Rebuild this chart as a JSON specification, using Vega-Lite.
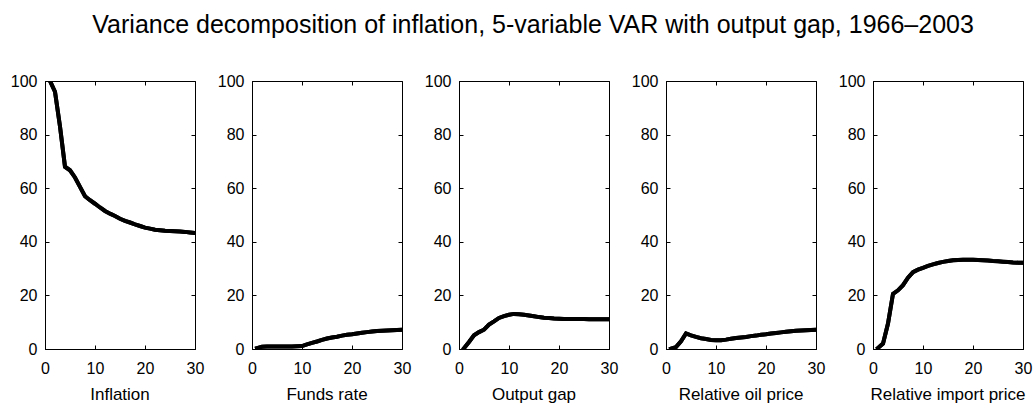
{
  "$schema": "https://vega.github.io/schema/vega-lite/v6.json",
  "padding": {"left": 9, "top": 12, "right": 2, "bottom": 0},
  "background": "white",
  "title": {"text": "Variance decomposition of inflation, 5-variable VAR with output gap, 1966–2003", "font": "Liberation Sans", "fontSize": 25, "fontWeight": "normal", "color": "black", "anchor": "middle", "offset": 35, "dx": 12},
  "config": {
    "view": {"stroke": "black", "strokeWidth": 1},
    "axis": {"labelFont": "Liberation Sans", "labelFontSize": 16, "labelColor": "black", "domainColor": "black", "tickColor": "black", "grid": false, "tickSize": -4, "labelPadding": 12, "labelFlush": false}
  },
  "data": {"values": [
    {"shock":"Inflation","h":1,"v":100},{"shock":"Inflation","h":2,"v":96},{"shock":"Inflation","h":3,"v":83},{"shock":"Inflation","h":4,"v":68},{"shock":"Inflation","h":5,"v":66.7},{"shock":"Inflation","h":6,"v":64},{"shock":"Inflation","h":7,"v":60.5},{"shock":"Inflation","h":8,"v":57},{"shock":"Inflation","h":9,"v":55.5},{"shock":"Inflation","h":10,"v":54.2},{"shock":"Inflation","h":11,"v":52.8},{"shock":"Inflation","h":12,"v":51.5},{"shock":"Inflation","h":13,"v":50.5},{"shock":"Inflation","h":14,"v":49.6},{"shock":"Inflation","h":15,"v":48.6},{"shock":"Inflation","h":16,"v":47.8},{"shock":"Inflation","h":17,"v":47.2},{"shock":"Inflation","h":18,"v":46.5},{"shock":"Inflation","h":19,"v":45.9},{"shock":"Inflation","h":20,"v":45.3},{"shock":"Inflation","h":21,"v":44.9},{"shock":"Inflation","h":22,"v":44.5},{"shock":"Inflation","h":23,"v":44.3},{"shock":"Inflation","h":24,"v":44.1},{"shock":"Inflation","h":25,"v":44},{"shock":"Inflation","h":26,"v":43.9},{"shock":"Inflation","h":27,"v":43.8},{"shock":"Inflation","h":28,"v":43.7},{"shock":"Inflation","h":29,"v":43.5},{"shock":"Inflation","h":30,"v":43.3},
    {"shock":"Funds rate","h":1,"v":0.3},{"shock":"Funds rate","h":2,"v":0.8},{"shock":"Funds rate","h":3,"v":0.9},{"shock":"Funds rate","h":4,"v":0.9},{"shock":"Funds rate","h":5,"v":0.9},{"shock":"Funds rate","h":6,"v":0.9},{"shock":"Funds rate","h":7,"v":0.9},{"shock":"Funds rate","h":8,"v":0.9},{"shock":"Funds rate","h":9,"v":1.0},{"shock":"Funds rate","h":10,"v":1.1},{"shock":"Funds rate","h":11,"v":1.7},{"shock":"Funds rate","h":12,"v":2.3},{"shock":"Funds rate","h":13,"v":2.8},{"shock":"Funds rate","h":14,"v":3.4},{"shock":"Funds rate","h":15,"v":3.9},{"shock":"Funds rate","h":16,"v":4.3},{"shock":"Funds rate","h":17,"v":4.6},{"shock":"Funds rate","h":18,"v":5.0},{"shock":"Funds rate","h":19,"v":5.3},{"shock":"Funds rate","h":20,"v":5.5},{"shock":"Funds rate","h":21,"v":5.8},{"shock":"Funds rate","h":22,"v":6.1},{"shock":"Funds rate","h":23,"v":6.3},{"shock":"Funds rate","h":24,"v":6.5},{"shock":"Funds rate","h":25,"v":6.7},{"shock":"Funds rate","h":26,"v":6.8},{"shock":"Funds rate","h":27,"v":6.9},{"shock":"Funds rate","h":28,"v":7.0},{"shock":"Funds rate","h":29,"v":7.1},{"shock":"Funds rate","h":30,"v":7.2},
    {"shock":"Output gap","h":1,"v":0.3},{"shock":"Output gap","h":2,"v":2.6},{"shock":"Output gap","h":3,"v":5.1},{"shock":"Output gap","h":4,"v":6.3},{"shock":"Output gap","h":5,"v":7.2},{"shock":"Output gap","h":6,"v":9.1},{"shock":"Output gap","h":7,"v":10.3},{"shock":"Output gap","h":8,"v":11.6},{"shock":"Output gap","h":9,"v":12.3},{"shock":"Output gap","h":10,"v":12.8},{"shock":"Output gap","h":11,"v":13.1},{"shock":"Output gap","h":12,"v":13.0},{"shock":"Output gap","h":13,"v":12.8},{"shock":"Output gap","h":14,"v":12.5},{"shock":"Output gap","h":15,"v":12.2},{"shock":"Output gap","h":16,"v":11.9},{"shock":"Output gap","h":17,"v":11.7},{"shock":"Output gap","h":18,"v":11.6},{"shock":"Output gap","h":19,"v":11.4},{"shock":"Output gap","h":20,"v":11.3},{"shock":"Output gap","h":21,"v":11.2},{"shock":"Output gap","h":22,"v":11.2},{"shock":"Output gap","h":23,"v":11.2},{"shock":"Output gap","h":24,"v":11.2},{"shock":"Output gap","h":25,"v":11.2},{"shock":"Output gap","h":26,"v":11.1},{"shock":"Output gap","h":27,"v":11.1},{"shock":"Output gap","h":28,"v":11.1},{"shock":"Output gap","h":29,"v":11.1},{"shock":"Output gap","h":30,"v":11.1},
    {"shock":"Relative oil price","h":1,"v":0.1},{"shock":"Relative oil price","h":2,"v":0.7},{"shock":"Relative oil price","h":3,"v":2.9},{"shock":"Relative oil price","h":4,"v":5.8},{"shock":"Relative oil price","h":5,"v":5.1},{"shock":"Relative oil price","h":6,"v":4.5},{"shock":"Relative oil price","h":7,"v":4.0},{"shock":"Relative oil price","h":8,"v":3.7},{"shock":"Relative oil price","h":9,"v":3.4},{"shock":"Relative oil price","h":10,"v":3.3},{"shock":"Relative oil price","h":11,"v":3.3},{"shock":"Relative oil price","h":12,"v":3.5},{"shock":"Relative oil price","h":13,"v":3.8},{"shock":"Relative oil price","h":14,"v":4.1},{"shock":"Relative oil price","h":15,"v":4.3},{"shock":"Relative oil price","h":16,"v":4.5},{"shock":"Relative oil price","h":17,"v":4.8},{"shock":"Relative oil price","h":18,"v":5.0},{"shock":"Relative oil price","h":19,"v":5.3},{"shock":"Relative oil price","h":20,"v":5.5},{"shock":"Relative oil price","h":21,"v":5.8},{"shock":"Relative oil price","h":22,"v":6.0},{"shock":"Relative oil price","h":23,"v":6.2},{"shock":"Relative oil price","h":24,"v":6.4},{"shock":"Relative oil price","h":25,"v":6.6},{"shock":"Relative oil price","h":26,"v":6.8},{"shock":"Relative oil price","h":27,"v":6.9},{"shock":"Relative oil price","h":28,"v":7.0},{"shock":"Relative oil price","h":29,"v":7.1},{"shock":"Relative oil price","h":30,"v":7.2},
    {"shock":"Relative import price","h":1,"v":0.4},{"shock":"Relative import price","h":2,"v":2.0},{"shock":"Relative import price","h":3,"v":9.5},{"shock":"Relative import price","h":4,"v":20.6},{"shock":"Relative import price","h":5,"v":21.9},{"shock":"Relative import price","h":6,"v":23.8},{"shock":"Relative import price","h":7,"v":26.6},{"shock":"Relative import price","h":8,"v":28.7},{"shock":"Relative import price","h":9,"v":29.6},{"shock":"Relative import price","h":10,"v":30.3},{"shock":"Relative import price","h":11,"v":31.0},{"shock":"Relative import price","h":12,"v":31.6},{"shock":"Relative import price","h":13,"v":32.1},{"shock":"Relative import price","h":14,"v":32.5},{"shock":"Relative import price","h":15,"v":32.8},{"shock":"Relative import price","h":16,"v":33.1},{"shock":"Relative import price","h":17,"v":33.2},{"shock":"Relative import price","h":18,"v":33.3},{"shock":"Relative import price","h":19,"v":33.3},{"shock":"Relative import price","h":20,"v":33.3},{"shock":"Relative import price","h":21,"v":33.2},{"shock":"Relative import price","h":22,"v":33.1},{"shock":"Relative import price","h":23,"v":33.0},{"shock":"Relative import price","h":24,"v":32.8},{"shock":"Relative import price","h":25,"v":32.7},{"shock":"Relative import price","h":26,"v":32.6},{"shock":"Relative import price","h":27,"v":32.5},{"shock":"Relative import price","h":28,"v":32.3},{"shock":"Relative import price","h":29,"v":32.2},{"shock":"Relative import price","h":30,"v":32.2}
  ]},
  "facet": {"column": {"field": "shock", "type": "nominal", "sort": ["Inflation", "Funds rate", "Output gap", "Relative oil price", "Relative import price"], "header": {"title": null, "labelOrient": "bottom", "labelFont": "Liberation Sans", "labelFontSize": 17, "labelColor": "black", "labelPadding": 10}}},
  "spacing": 11,
  "resolve": {"axis": {"x": "independent", "y": "independent"}},
  "spec": {
    "width": 150,
    "height": 268,
    "layer": [
      {
        "mark": {"type": "line", "color": "black", "strokeWidth": 4, "strokeCap": "square", "clip": true},
        "encoding": {
          "x": {"field": "h", "type": "quantitative", "scale": {"domain": [0, 30], "nice": false}, "axis": {"title": null, "values": [0, 10, 20, 30], "labelPadding": 15}},
          "y": {"field": "v", "type": "quantitative", "scale": {"domain": [0, 100], "nice": false}, "axis": {"title": null, "values": [0, 20, 40, 60, 80, 100]}}
        }
      },
      {
        "mark": {"type": "line", "color": "black", "strokeWidth": 4, "strokeCap": "square", "clip": true},
        "encoding": {
          "x": {"field": "h", "type": "quantitative", "scale": {"domain": [0, 30], "nice": false}, "axis": {"orient": "top", "title": null, "labels": false, "domain": false, "values": [0, 10, 20, 30]}},
          "y": {"field": "v", "type": "quantitative", "scale": {"domain": [0, 100], "nice": false}, "axis": {"orient": "right", "title": null, "labels": false, "domain": false, "values": [0, 20, 40, 60, 80, 100]}}
        }
      }
    ],
    "resolve": {"axis": {"x": "independent", "y": "independent"}}
  }
}
